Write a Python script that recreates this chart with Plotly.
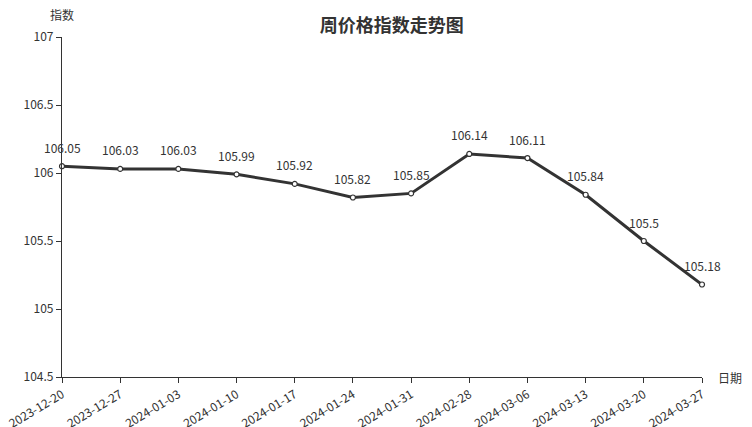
import plotly.graph_objects as go

dates = ["2023-12-20", "2023-12-27", "2024-01-03", "2024-01-10", "2024-01-17", "2024-01-24",
         "2024-01-31", "2024-02-28", "2024-03-06", "2024-03-13", "2024-03-20", "2024-03-27"]
values = [106.05, 106.03, 106.03, 105.99, 105.92, 105.82, 105.85, 106.14, 106.11, 105.84, 105.5, 105.18]
y_ticks = [104.5, 105, 105.5, 106, 106.5, 107]
y_tick_labels = ["104.5", "105", "105.5", "106", "106.5", "107"]

FONT = "Noto Sans CJK SC"
TXT = "#333333"

fig = go.Figure()
fig.add_trace(go.Scatter(
    x=dates, y=values, mode="lines+markers",
    line=dict(color="#333333", width=3),
    marker=dict(size=5, color="white", line=dict(color="#333333", width=1.2)),
    cliponaxis=False, showlegend=False, hoverinfo="skip",
))

label_annotations = [
    dict(x=d, y=v, text=str(v), xref="x", yref="y", showarrow=False,
         yanchor="middle", xanchor="center", yshift=19,
         font=dict(family=FONT, size=12, color=TXT))
    for d, v in zip(dates, values)
]

fig.update_layout(
    width=752, height=427,
    margin=dict(l=62, r=50, t=37, b=50),
    paper_bgcolor="white", plot_bgcolor="white",
    font=dict(family=FONT, size=12, color=TXT),
    title=dict(text="<b>周价格指数走势图</b>", x=0.521, xanchor="center", y=0.94, yanchor="middle",
               font=dict(family=FONT, size=18, color=TXT)),
    xaxis=dict(type="category", range=[0, len(dates) - 1], showgrid=False, automargin=False,
               showline=True, linecolor="#333333", linewidth=1.2,
               ticks="outside", ticklen=5, tickcolor="#333333", tickangle=-31,
               ticklabelstandoff=0,
               tickfont=dict(family=FONT, size=12, color=TXT), zeroline=False),
    yaxis=dict(range=[104.5, 107], showgrid=False, tickvals=y_ticks, ticktext=y_tick_labels,
               automargin=False,
               showline=True, linecolor="#333333", linewidth=1.2,
               ticks="outside", ticklen=5, tickcolor="#333333",
               tickfont=dict(family=FONT, size=12, color=TXT), zeroline=False),
    annotations=label_annotations + [
        dict(text="指数", xref="paper", yref="paper", x=0, y=1, xanchor="center", yanchor="bottom",
             yshift=12, showarrow=False, font=dict(family=FONT, size=12, color=TXT)),
        dict(text="日期", xref="paper", yref="paper", x=1, y=0, xanchor="left", yanchor="middle",
             xshift=14, showarrow=False, font=dict(family=FONT, size=12, color=TXT)),
    ],
)

fig.write_html("out.html", config={"displayModeBar": False},
               post_script="document.body.style.margin='0';document.body.style.overflow='hidden';")
